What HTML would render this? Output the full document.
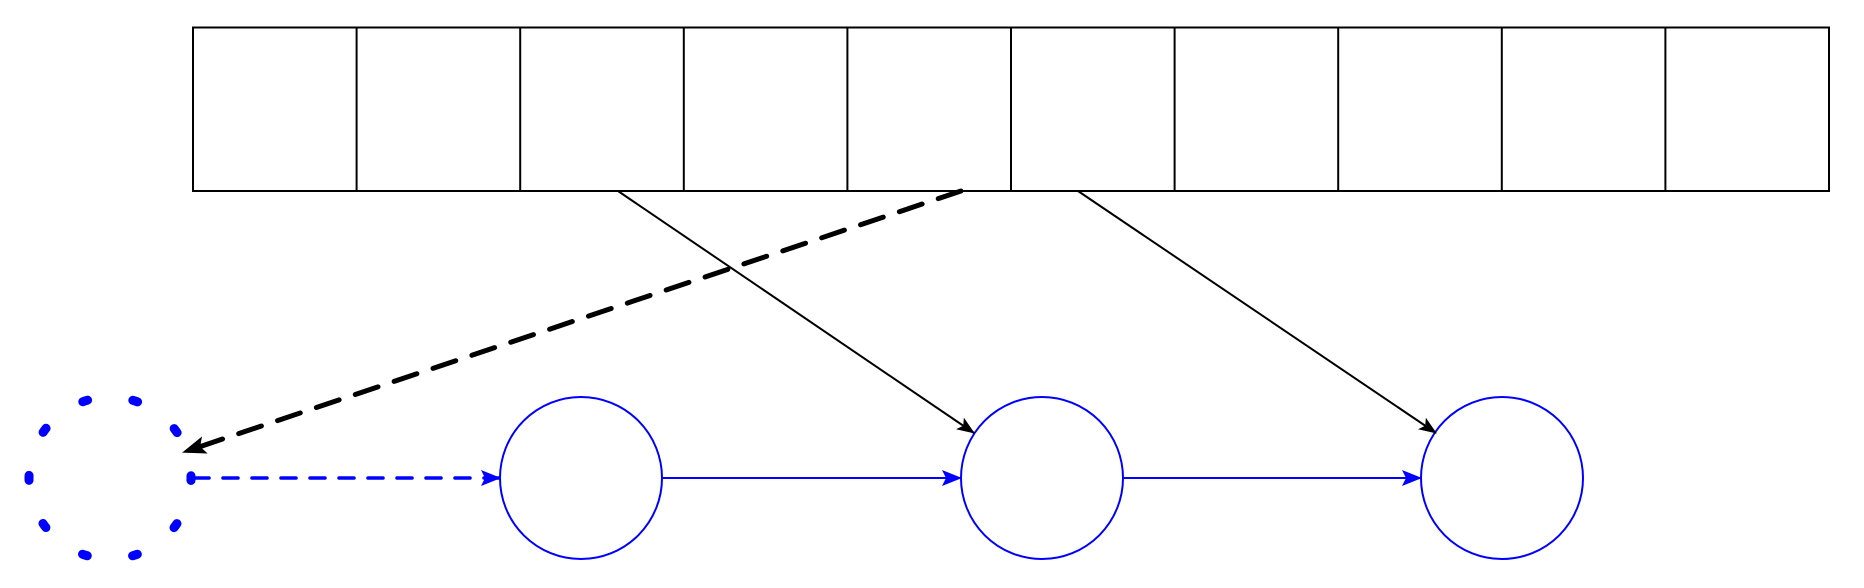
<!DOCTYPE html>
<html><head><meta charset="utf-8"><style>html,body{margin:0;padding:0;background:#fff}svg{display:block}</style></head>
<body>
<svg width="1864" height="588" viewBox="0 0 1864 588">
<defs>
<marker id="ab" markerWidth="18" markerHeight="14" refX="17" refY="7" orient="auto" markerUnits="userSpaceOnUse" viewBox="0 0 18 14"><path d="M0,0 L18,7 L0,14 L4,7z" fill="#000"/></marker>
<marker id="abl" markerWidth="24" markerHeight="18" refX="22" refY="9" orient="auto" markerUnits="userSpaceOnUse" viewBox="0 0 24 18"><path d="M0,0 L24,9 L0,18 L5,9z" fill="#000"/></marker>
<marker id="au" markerWidth="20" markerHeight="16" refX="19" refY="8" orient="auto" markerUnits="userSpaceOnUse" viewBox="0 0 20 16"><path d="M0,0 L20,8 L0,16 L4,8z" fill="#00f"/></marker>
</defs>
<g fill="none" stroke="#000" stroke-width="2">
<rect x="193" y="27.5" width="1636" height="163.5"/>
<line x1="356.6" y1="27.5" x2="356.6" y2="191"/><line x1="520.2" y1="27.5" x2="520.2" y2="191"/>
<line x1="683.8" y1="27.5" x2="683.8" y2="191"/><line x1="847.4" y1="27.5" x2="847.4" y2="191"/>
<line x1="1011" y1="27.5" x2="1011" y2="191"/><line x1="1174.6" y1="27.5" x2="1174.6" y2="191"/>
<line x1="1338.2" y1="27.5" x2="1338.2" y2="191"/><line x1="1501.8" y1="27.5" x2="1501.8" y2="191"/>
<line x1="1665.4" y1="27.5" x2="1665.4" y2="191"/>
</g>
<circle cx="110" cy="478" r="81" fill="none" stroke="#00f" stroke-width="9" stroke-linecap="round" stroke-dasharray="5 45.9" stroke-dashoffset="2.5"/>
<circle cx="581" cy="478" r="81" fill="none" stroke="#00f" stroke-width="2"/>
<circle cx="1042" cy="478" r="81" fill="none" stroke="#00f" stroke-width="2"/>
<circle cx="1502" cy="478" r="81" fill="none" stroke="#00f" stroke-width="2"/>
<line x1="618" y1="191" x2="974" y2="433" stroke="#000" stroke-width="2" marker-end="url(#ab)"/>
<line x1="1078" y1="191" x2="1436" y2="433" stroke="#000" stroke-width="2" marker-end="url(#ab)"/>
<line x1="961" y1="191" x2="184" y2="452" stroke="#000" stroke-width="5" stroke-linecap="round" stroke-dasharray="24 17" marker-end="url(#abl)"/>
<line x1="194" y1="478" x2="500" y2="478" stroke="#00f" stroke-width="3.5" stroke-linecap="round" stroke-dasharray="15 14" marker-end="url(#au)"/>
<line x1="662" y1="478" x2="961" y2="478" stroke="#00f" stroke-width="2" marker-end="url(#au)"/>
<line x1="1123" y1="478" x2="1421" y2="478" stroke="#00f" stroke-width="2" marker-end="url(#au)"/>
</svg>
</body></html>
